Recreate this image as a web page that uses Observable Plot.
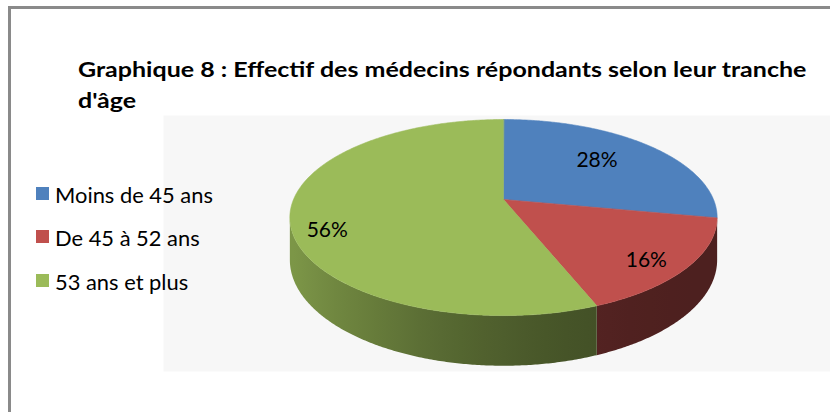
<!DOCTYPE html>
<html>
<head>
<meta charset="utf-8">
<script src="https://cdn.jsdelivr.net/npm/d3@7"></script>
<script src="https://cdn.jsdelivr.net/npm/@observablehq/plot@0.6"></script>
<style>
  body { margin: 0; background: #ffffff; }
  #wrap { position: relative; width: 830px; height: 412px; overflow: hidden; font-family: Lato, "Open Sans", sans-serif; }
  #border { position: absolute; left: 8px; top: 6px; width: 900px; height: 500px;
            border-left: 3px solid #8a8a8a; border-top: 3px solid #8a8a8a; box-sizing: border-box; }
  #chart { position: absolute; left: 0; top: 0; }
  #overlay { position: absolute; left: 0; top: 0; }
</style>
</head>
<body>
<div id="wrap">
  <div id="border"></div>
  <div id="chart"></div>
</div>
<script>
// ---------- data ----------
const categories = ["Moins de 45 ans", "De 45 à 52 ans", "53 ans et plus"];
const values = [28, 16, 56];
const labels = ["28%", "16%", "56%"];
const colors = ["#4F81BD", "#C0504D", "#9BBB59"];
const titleLines = ["Graphique 8 : Effectif des médecins répondants selon leur tranche", "d'âge"];

// ---------- layout / 3D look ----------
const CX = 503, CY = 199, R = 210;            // pie centre and radius in px
const TILT = 0.451, K = 0.184, DEPTH = 0.195; // vertical squash, perspective, wall height (R units)
const labelRadius = [0.62, 0.80, 0.83];
const labelDy = [-4, 7, 16];

function proj(phi, r = 1, down = 0) {
  const u = r * Math.sin(phi), v = r * Math.cos(phi);
  const s = 1 / (1 + K * v);
  return { x: u * s, y: (TILT * v - down) * s };
}
const shadeF = u => 0.4 + 0.4 * Math.pow((1 - u) / 2, 2);
function shade(col, f) { const c = d3.rgb(col); return d3.rgb(c.r * f, c.g * f, c.b * f).formatHex(); }

const arcs = d3.pie().sort(null).value(d => d)(values);
const STEP = Math.PI / 360;
const visA0 = Math.acos(-K), visA1 = 2 * Math.PI - Math.acos(-K);

const topPts = [], wallPts = [], labPts = [];
arcs.forEach((p, i) => {
  const key = categories[i];
  topPts.push({ key, ...proj(0, 0), fill: colors[i] });
  const n = Math.max(2, Math.ceil((p.endAngle - p.startAngle) / STEP));
  for (let j = 0; j <= n; j++) {
    const a = p.startAngle + (p.endAngle - p.startAngle) * j / n;
    topPts.push({ key, ...proj(a), fill: colors[i] });
  }
  const a0 = Math.max(p.startAngle, visA0), a1 = Math.min(p.endAngle, visA1);
  if (a1 > a0) {
    const m = Math.max(2, Math.ceil((a1 - a0) / STEP));
    const fill = `url(#wallgrad-${i})`;
    for (let j = 0; j <= m; j++) wallPts.push({ key, ...proj(a0 + (a1 - a0) * j / m), fill });
    for (let j = m; j >= 0; j--) wallPts.push({ key, ...proj(a0 + (a1 - a0) * j / m, 1, DEPTH), fill });
  }
  const mid = (p.startAngle + p.endAngle) / 2;
  labPts.push({ ...proj(mid, labelRadius[i]), text: labels[i] });
});

// gradient definitions for the shaded side walls
function wallGradients(index, scales) {
  const g = d3.create("svg:g");
  const defs = g.append("defs");
  const xa = scales.x(-1.02), xb = scales.x(1.02);
  colors.forEach((col, i) => {
    const lg = defs.append("linearGradient").attr("id", `wallgrad-${i}`)
      .attr("gradientUnits", "userSpaceOnUse")
      .attr("x1", xa).attr("x2", xb).attr("y1", 0).attr("y2", 0);
    d3.range(-1, 1.0001, 0.1).forEach(u => {
      lg.append("stop").attr("offset", (u + 1.02) / 2.04).attr("stop-color", shade(col, shadeF(u)));
    });
  });
  return g.node();
}

const chart = Plot.plot({
  width: 830, height: 412,
  marginTop: 115, marginLeft: 163, marginRight: 0, marginBottom: 41,
  x: { type: "linear", domain: [-1, 1], range: [CX - R, CX + R], axis: null },
  y: { type: "linear", domain: [-1, 1], range: [CY + R, CY - R], axis: null },
  color: { type: "identity" },
  style: { background: "transparent", overflow: "visible" },
  marks: [
    Plot.frame({ fill: "#f7f7f7", stroke: null }),
    wallGradients,
    Plot.line(wallPts, { x: "x", y: "y", z: "key", fill: "fill", stroke: null, curve: "linear-closed" }),
    Plot.line(topPts, { x: "x", y: "y", z: "key", fill: "fill", stroke: "fill", strokeWidth: 0.6, curve: "linear-closed" }),
    ...labPts.map((d, i) => Plot.text([d], {
      x: "x", y: "y", text: "text", dy: labelDy[i],
      fontSize: 21, fontFamily: "Lato, 'Open Sans', sans-serif", fill: "#000"
    }))
  ]
});
document.getElementById("chart").appendChild(chart);

// ---------- title and legend (overlay) ----------
const wrap = d3.select("#wrap");
const ov = wrap.append("svg").attr("id", "overlay").attr("width", 830).attr("height", 412)
  .style("font-family", "Lato, 'Open Sans', sans-serif");

const titleBase = [77, 108];
const titleTexts = titleLines.map((line, i) => ov.append("text").attr("x", 0).attr("y", titleBase[i])
  .attr("font-size", 21).attr("font-weight", "bold").attr("fill", "#000").text(line));
const sx = 729 / titleTexts[0].node().getComputedTextLength();
titleTexts.forEach(t => t.attr("transform", `translate(78,0) scale(${sx},1)`));

const legBase = [203, 246, 290];
const legTexts = categories.map((c, i) => {
  ov.append("rect").attr("x", 36).attr("y", legBase[i] - 16).attr("width", 13).attr("height", 13).attr("fill", colors[i]);
  return ov.append("text").attr("x", 0).attr("y", legBase[i]).attr("font-size", 22).attr("fill", "#000").text(c);
});
const lsx = 158 / legTexts[0].node().getComputedTextLength();
legTexts.forEach(t => t.attr("transform", `translate(55,0) scale(${lsx},1)`));
</script>
</body>
</html>
